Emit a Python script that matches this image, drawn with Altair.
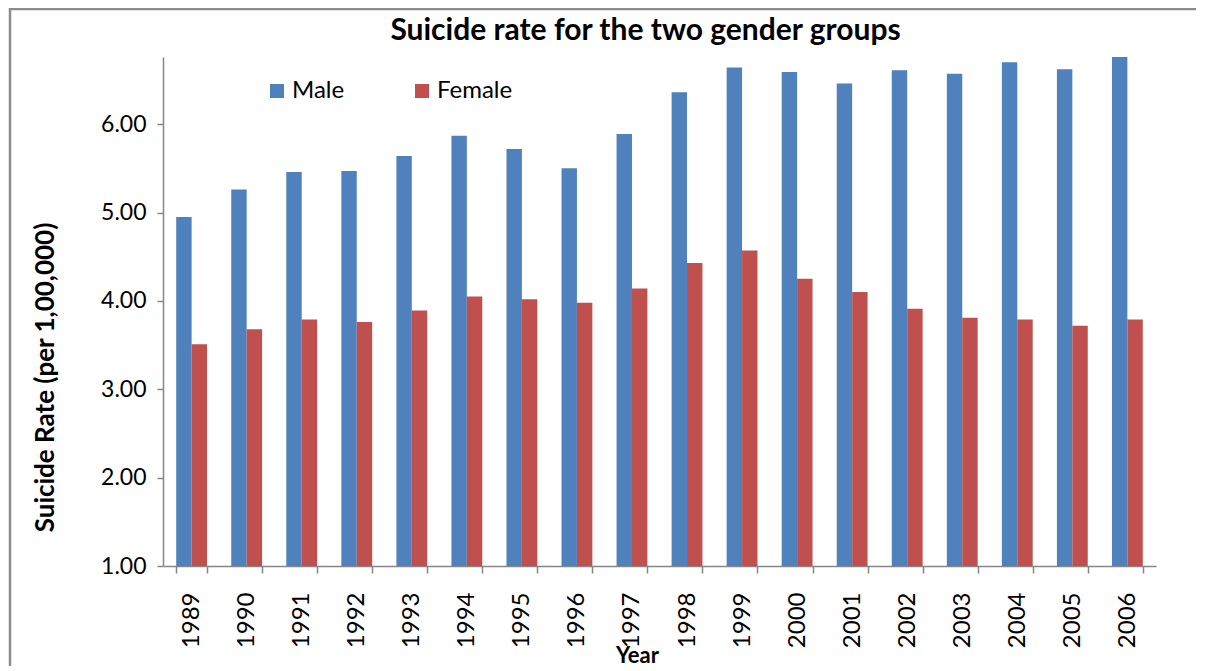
import altair as alt
import pandas as pd

years = [str(y) for y in range(1989, 2007)]
male = [4.95, 5.26, 5.46, 5.47, 5.64, 5.87, 5.72, 5.50, 5.89, 6.36,
        6.64, 6.59, 6.46, 6.61, 6.57, 6.70, 6.62, 6.76]
female = [3.51, 3.68, 3.79, 3.76, 3.89, 4.05, 4.02, 3.98, 4.14, 4.43,
          4.57, 4.25, 4.10, 3.91, 3.81, 3.79, 3.72, 3.79]
groups = ["Male", "Female"]
colors = ["#4F81BD", "#C0504D"]
y_ticks = [1, 2, 3, 4, 5, 6]

rows = []
for i, yr in enumerate(years):
    rows.append({"Year": yr, "Gender": "Male", "Rate": male[i]})
    rows.append({"Year": yr, "Gender": "Female", "Rate": female[i]})
df = pd.DataFrame(rows)

FONT = "Lato"
GRAY = "#868686"

bars = alt.Chart(df).mark_bar().encode(
    x=alt.X("Year:N", sort=years,
            scale=alt.Scale(paddingInner=0.44, paddingOuter=0.24),
            axis=alt.Axis(title="Year", labelAngle=-90, labelFontSize=24,
                          labelFont=FONT, labelColor="#000",
                          tickBand="extent", tickSize=7, tickColor=GRAY,
                          domainColor=GRAY, domainWidth=1.5, tickWidth=1.5,
                          labelPadding=19, titleFont=FONT, titleFontSize=22,
                          titleFontWeight="bold", titleColor="#000",
                          titleX=474, titleY=89, titleBaseline="middle",
                          titleAlign="center")),
    xOffset=alt.XOffset("Gender:N", sort=groups, scale=alt.Scale(paddingInner=0)),
    y=alt.Y("Rate:Q", scale=alt.Scale(domain=[1, 6.76], nice=False, zero=False),
            axis=alt.Axis(title="Suicide Rate (per 1,00,000)", values=y_ticks,
                          format=".2f", grid=False, labelFontSize=23,
                          labelFont=FONT, labelColor="#000", tickSize=6,
                          tickColor=GRAY, tickWidth=1.5, domainColor=GRAY,
                          domainWidth=1.5, labelPadding=11, titleFont=FONT,
                          titleFontSize=26, titleFontWeight="bold",
                          titleColor="#000", titleX=-118, titleY=320,
                          titleBaseline="middle", titleAlign="center",
                          titleAngle=270)),
    y2=alt.datum(1),
    color=alt.Color("Gender:N", sort=groups,
                    scale=alt.Scale(domain=groups, range=colors),
                    legend=alt.Legend(title=None, orient="none", legendX=102,
                                      legendY=22, direction="horizontal",
                                      symbolType="square", symbolSize=196,
                                      symbolStrokeWidth=0, labelFontSize=24,
                                      labelFont=FONT, labelColor="#000",
                                      labelOffset=3, columnPadding=65,
                                      padding=0)),
)

frame_data = alt.Data(values=[{}])
border_top = alt.Chart(frame_data).mark_rule(
    stroke="#8C8C8C", strokeWidth=2.5
).encode(x=alt.value(-154), x2=alt.value(1100), y=alt.value(-48))
border_left = alt.Chart(frame_data).mark_rule(
    stroke="#8C8C8C", strokeWidth=2.5
).encode(x=alt.value(-153), y=alt.value(-49), y2=alt.value(700))

chart = alt.layer(bars, border_top, border_left).properties(
    width=993, height=509,
    title=alt.TitleParams("Suicide rate for the two gender groups", font=FONT,
                          fontSize=30, fontWeight="bold", color="#000",
                          anchor="middle", frame="group", dx=-14, dy=51,
                          offset=12),
    padding={"left": 155, "top": 49, "right": 40, "bottom": 100},
    autosize=alt.AutoSizeParams(type="none"),
).configure(background="white").configure_view(stroke=None)

chart.save("out.html", embed_options={"renderer": "svg", "actions": False})
